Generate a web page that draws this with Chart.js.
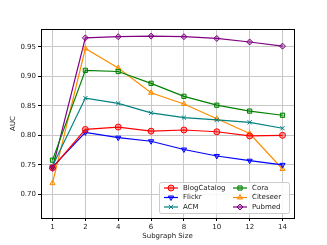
<!DOCTYPE html>
<html>
<head>
<meta charset="utf-8">
<script src="https://cdn.jsdelivr.net/npm/chart.js@4/dist/chart.umd.min.js"></script>
<style>
  html, body { margin: 0; padding: 0; background: #fff; }
  #wrap { width: 327px; height: 245px; }
</style>
</head>
<body>
<div id="wrap"><canvas id="myChart" width="327" height="245"></canvas></div>
<script>
// Subgraph sizes (evenly spaced on the x axis)
var sizes = ['1', '2', '4', '6', '8', '10', '12', '14'];
var yTicks = [0.70, 0.75, 0.80, 0.85, 0.90, 0.95];

// AUC values
var blogCatalog = [0.745, 0.810, 0.814, 0.807, 0.809, 0.806, 0.799, 0.800];
var flickr      = [0.746, 0.805, 0.796, 0.790, 0.776, 0.765, 0.757, 0.750];
var acm         = [0.748, 0.863, 0.854, 0.838, 0.830, 0.826, 0.822, 0.812];
var cora        = [0.758, 0.910, 0.908, 0.888, 0.866, 0.851, 0.841, 0.834];
var citeseer    = [0.719, 0.947, 0.914, 0.872, 0.853, 0.828, 0.803, 0.743];
var pubmed      = [0.744, 0.965, 0.967, 0.968, 0.967, 0.964, 0.958, 0.951];

var font = 'DejaVu Sans';

function series(label, values, color, fill, marker, rot) {
    return {
        label: label,
        data: values.map(function(v, i) { return { x: i, y: v }; }),
        borderColor: color,
        backgroundColor: fill,
        pointBackgroundColor: fill,
        pointBorderColor: color,
        pointStyle: marker,
        pointRotation: rot || 0,
        pointRadius: 3,
        pointBorderWidth: 1,
        borderWidth: 1.2,
        fill: false,
        tension: 0
    };
}

// legend drawn inside the plot area, lower right, two columns
var innerLegend = {
    id: 'innerLegend',
    afterDraw: function(chart) {
        var ctx = chart.ctx;
        var a = chart.chartArea;
        var ds = chart.data.datasets;
        var boxW = 130, boxH = 31;
        var x0 = a.right - boxW - 5, y0 = a.bottom - boxH - 5;
        ctx.save();
        ctx.fillStyle = 'rgba(255,255,255,0.85)';
        ctx.strokeStyle = '#cccccc';
        ctx.lineWidth = 1;
        ctx.beginPath();
        ctx.roundRect(x0 + 0.5, y0 + 0.5, boxW, boxH, 2);
        ctx.fill();
        ctx.stroke();
        ctx.font = '7px "' + font + '"';
        ctx.textBaseline = 'middle';
        for (var i = 0; i < ds.length; i++) {
            var col = Math.floor(i / 3), row = i % 3;
            var lx = x0 + 5 + col * 69;
            var ly = y0 + 6 + row * 9.5;
            ctx.strokeStyle = ds[i].borderColor;
            ctx.lineWidth = 1.2;
            ctx.beginPath();
            ctx.moveTo(lx, ly);
            ctx.lineTo(lx + 14, ly);
            ctx.stroke();
            ctx.fillStyle = ds[i].pointBackgroundColor;
            ctx.lineWidth = 1;
            Chart.helpers.drawPoint(ctx, {
                pointStyle: ds[i].pointStyle, rotation: ds[i].pointRotation,
                radius: 3, borderWidth: 1
            }, lx + 7, ly);
            ctx.fillStyle = '#222';
            ctx.fillText(ds[i].label, lx + 19, ly);
        }
        ctx.restore();
    }
};

// black frame around the axes
var frame = {
    id: 'frame',
    afterDatasetsDraw: function(chart) {
        var a = chart.chartArea, ctx = chart.ctx;
        ctx.save();
        ctx.strokeStyle = '#000';
        ctx.lineWidth = 1;
        ctx.strokeRect(Math.round(a.left) + 0.5, Math.round(a.top) + 0.5,
            Math.round(a.right - a.left), Math.round(a.bottom - a.top));
        ctx.restore();
    }
};

var ctx = document.getElementById('myChart').getContext('2d');
var chart = new Chart(ctx, {
    type: 'line',
    data: {
        datasets: [
            series('BlogCatalog', blogCatalog, '#ff0000', 'rgba(255,0,0,0.35)', 'circle'),
            series('Flickr', flickr, '#0000ff', 'rgba(0,0,255,0.35)', 'triangle', 180),
            series('ACM', acm, '#008080', 'rgba(0,128,128,0.35)', 'crossRot'),
            series('Cora', cora, '#008000', 'rgba(0,128,0,0.3)', 'rect'),
            series('Citeseer', citeseer, '#ff8c00', 'rgba(255,140,0,0.3)', 'triangle'),
            series('Pubmed', pubmed, '#800080', 'rgba(128,0,128,0.3)', 'rectRot')
        ]
    },
    options: {
        responsive: false,
        animation: false,
        layout: { padding: { left: 9, top: 29, right: 33, bottom: 5 } },
        plugins: {
            legend: { display: false },
            tooltip: { enabled: false }
        },
        scales: {
            x: {
                type: 'linear',
                min: -0.35,
                max: 7.35,
                afterBuildTicks: function(axis) {
                    axis.ticks = sizes.map(function(s, i) { return { value: i }; });
                },
                afterFit: function(axis) { axis.height = 22; },
                ticks: {
                    autoSkip: false,
                    maxRotation: 0,
                    padding: 2,
                    color: '#222',
                    font: { family: font, size: 7 },
                    callback: function(v) { return sizes[v]; }
                },
                grid: { color: '#c8c8c8', lineWidth: 1, tickLength: 3, tickColor: '#000' },
                border: { display: false },
                title: { display: true, text: 'Subgraph Size', color: '#222', padding: 0,
                         font: { family: font, size: 7 } }
            },
            y: {
                min: 0.66,
                max: 0.98,
                afterBuildTicks: function(axis) {
                    axis.ticks = yTicks.map(function(v) { return { value: v }; });
                },
                afterFit: function(axis) { axis.width = 32; },
                ticks: {
                    padding: 2,
                    color: '#222',
                    font: { family: font, size: 7 },
                    callback: function(v) { return v.toFixed(2); }
                },
                grid: { color: '#c8c8c8', lineWidth: 1, tickLength: 3, tickColor: '#000' },
                border: { display: false },
                title: { display: true, text: 'AUC', color: '#222', padding: 0,
                         font: { family: font, size: 7 } }
            }
        }
    },
    plugins: [frame, innerLegend]
});
</script>
</body>
</html>
